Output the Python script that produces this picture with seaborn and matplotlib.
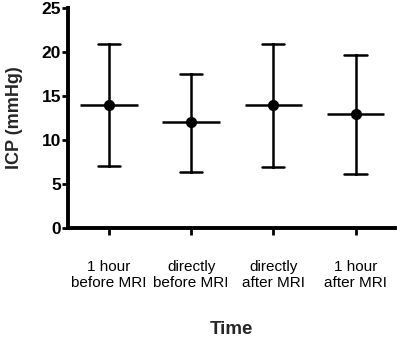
import pandas as pd
import numpy as np
from matplotlib import pyplot as plt
import seaborn as sns

# Values (mean, lower and upper whisker)
times = ["1 hour\nbefore MRI", "directly\nbefore MRI", "directly\nafter MRI", "1 hour\nafter MRI"]
icp_mean = [14.0, 12.0, 14.0, 13.0]
icp_low = [7.05, 6.35, 6.95, 6.1]
icp_high = [20.9, 17.5, 20.95, 19.7]

# long table: median of (low, mean, high) is the mean, 100% interval is low..high
rows = []
for t, lo, m, hi in zip(times, icp_low, icp_mean, icp_high):
    for v in (lo, m, hi):
        rows.append({"Time": t, "ICP": v})
df = pd.DataFrame(rows)

sns.set_theme(style="ticks")
plt.rcParams['font.family'] = ['Liberation Sans', 'DejaVu Sans']

fig = plt.figure(figsize=(4, 3.37), dpi=100)
ax = fig.add_axes([0.17, 0.3234, 0.8175, 0.6526])

sns.pointplot(data=df, x="Time", y="ICP", order=times, estimator="median",
              errorbar=("pi", 100), color="black", linestyle="none",
              capsize=0.27, err_kws={"linewidth": 1.8}, markersize=6, ax=ax)

# wide horizontal line at each mean
pos = np.arange(len(times))
ax.hlines(icp_mean, pos - 0.35, pos + 0.35, color="black", linewidth=1.8)

ax.set_xlim(-0.5, 3.48)
ax.set_ylim(0, 25)
ax.set_yticks([0, 5, 10, 15, 20, 25])
sns.despine(ax=ax)
for s in ["left", "bottom"]:
    ax.spines[s].set_linewidth(2.8)
    ax.spines[s].set_color("black")

ax.tick_params(axis="y", length=4, width=2, pad=1, labelsize=12.5, colors="black")
ax.tick_params(axis="x", length=5, width=2, pad=18, labelsize=11, colors="black")
for lab in ax.get_yticklabels():
    lab.set_fontweight("bold")

ax.set_ylabel("ICP (mmHg)", fontsize=13, fontweight="bold", labelpad=13)
ax.set_xlabel("Time", fontsize=13.5, fontweight="bold", labelpad=22)

plt.savefig("out.png", dpi=100)
